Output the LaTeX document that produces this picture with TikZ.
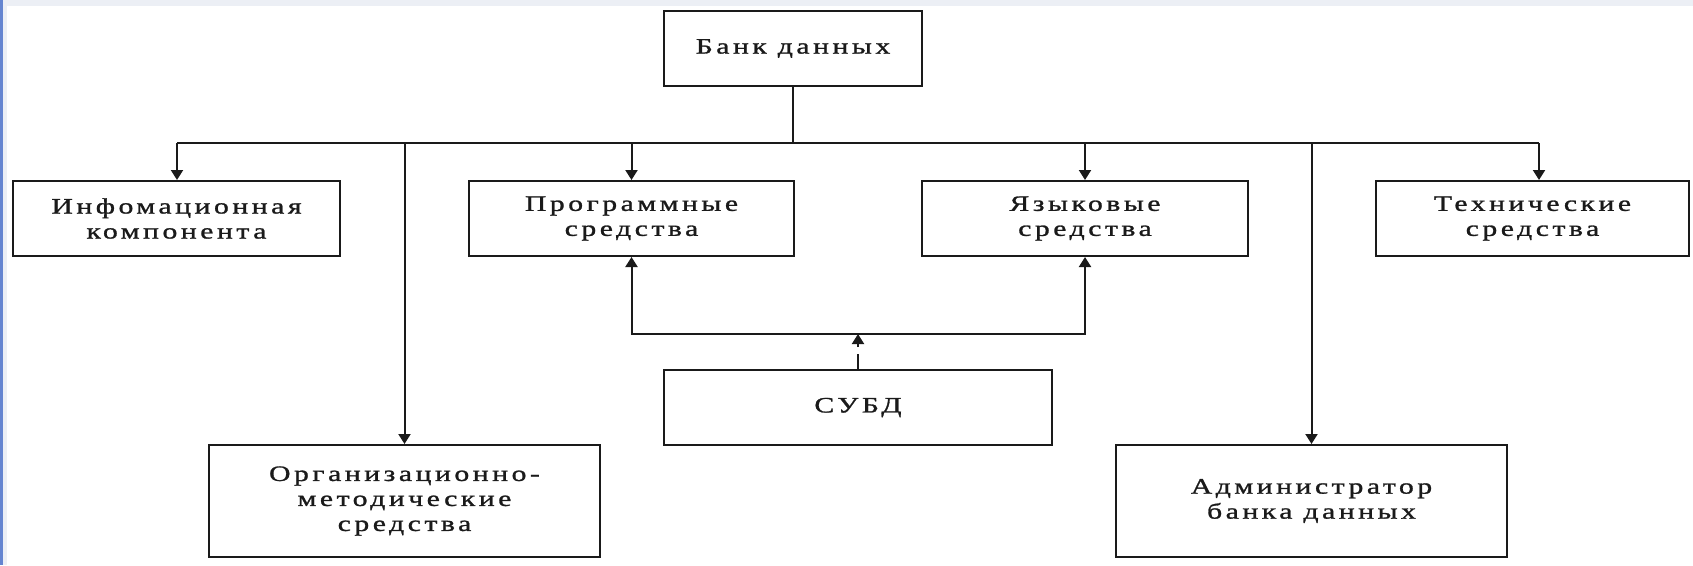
\documentclass[tikz,border=0pt]{standalone}
\usepackage{fontspec}
\setmainfont{Liberation Serif}[FakeStretch=1.35, LetterSpace=16, FakeBold=1.2]
\usetikzlibrary{arrows.meta}

\definecolor{framegrey}{HTML}{ECEFF5}
\definecolor{frameblue}{HTML}{6585D0}
\definecolor{ink}{HTML}{1A1A1A}

\begin{document}
\begin{tikzpicture}[x=1pt,y=-1pt,
  box/.style={draw=ink, line width=2pt, fill=white, rectangle, inner sep=0pt,
    align=center, font=\fontsize{22}{25}\selectfont, text=ink},
  link/.style={draw=ink, line width=2pt},
  arr/.style={link, -{Triangle[length=10pt,width=12pt]}},
  twoarr/.style={link, {Triangle[length=10pt,width=12pt]}-{Triangle[length=10pt,width=12pt]}}]

  % page background with the window frame strips
  \fill[white] (0,0) rectangle (1693,565);
  \fill[framegrey] (0,0) rectangle (1693,6);
  \fill[framegrey] (0,0) rectangle (7,565);
  \fill[frameblue] (0,0) rectangle (2.5,565);
  \useasboundingbox (0,0) rectangle (1693,565);

  % boxes
  \node[box, minimum width=258pt, minimum height=75pt] (bank) at (793,48.5) {Банк данных};
  \node[box, minimum width=327pt, minimum height=75pt] (info) at (176.5,218.5) {Инфомационная\\компонента};
  \node[box, minimum width=325pt, minimum height=75pt] (prog) at (631.5,218.5) {Программные\\средства};
  \node[box, minimum width=326pt, minimum height=75pt] (lang) at (1085,218.5) {Языковые\\средства};
  \node[box, minimum width=313pt, minimum height=75pt] (tech) at (1532.5,218.5) {Технические\\средства};
  \node[box, minimum width=388pt, minimum height=75pt] (dbms) at (858,407.5) {СУБД};
  \node[box, minimum width=391pt, minimum height=112pt] (org) at (404.5,501) {Организационно-\\методические\\средства};
  \node[box, minimum width=391pt, minimum height=112pt] (admin) at (1311.5,501) {Администратор\\банка данных};

  % distribution bus below the data bank
  \coordinate (busL) at (177,143);
  \coordinate (busR) at (1539,143);
  \coordinate (brk) at (858,334);

  \draw[link] (bank.south) -- (bank.south |- busL);
  \draw[link] (busL) -- (busR);
  \draw[arr] (busL) -- (busL |- info.north);
  \draw[arr] (org.north |- busL) -- (org.north);
  \draw[arr] (prog.north |- busL) -- (prog.north);
  \draw[arr] (lang.north |- busL) -- (lang.north);
  \draw[arr] (admin.north |- busL) -- (admin.north);
  \draw[arr] (busR) -- (busR |- tech.north);

  % DBMS feeds both software and language tools
  \draw[twoarr] (prog.south) -- (prog.south |- brk) -- (lang.south |- brk) -- (lang.south);
  \draw[arr, dash pattern=on 15pt off 7pt] (dbms.north) -- (dbms.north |- brk);
\end{tikzpicture}
\end{document}
